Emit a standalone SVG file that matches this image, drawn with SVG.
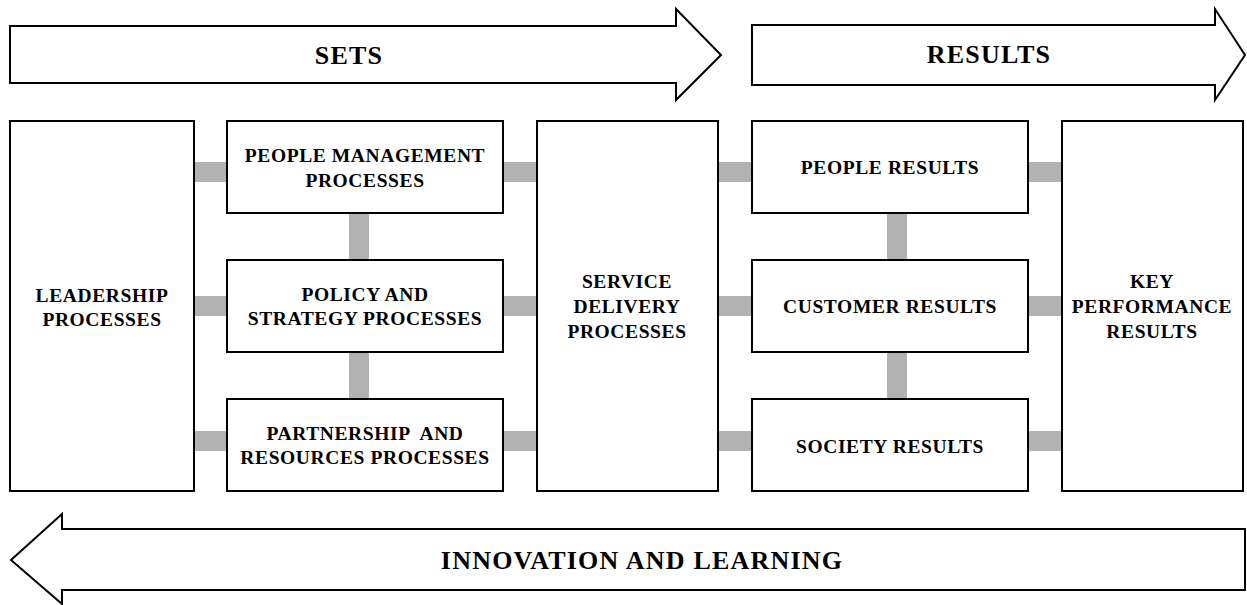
<svg xmlns="http://www.w3.org/2000/svg" width="1247" height="605" viewBox="0 0 1247 605">
<style>
.box{fill:#fff;stroke:#000;stroke-width:2}
.arr{fill:#fff;stroke:#000;stroke-width:2;stroke-linejoin:miter}
.bar{stroke:#b2b2b2;stroke-width:20;fill:none}
text{font-family:"Liberation Serif","Times New Roman",serif;font-weight:bold;fill:#000;text-anchor:middle}
.t{font-size:19.5px;letter-spacing:0.6px}
.big{font-size:26px;letter-spacing:1.2px}
.pre{white-space:pre}
</style>
<rect width="1247" height="605" fill="#fff"/>
<g id="connectors">
<line class="bar" x1="194" y1="172" x2="227" y2="172"/>
<line class="bar" x1="194" y1="306" x2="227" y2="306"/>
<line class="bar" x1="194" y1="441" x2="227" y2="441"/>
<line class="bar" x1="503" y1="172" x2="537" y2="172"/>
<line class="bar" x1="503" y1="306" x2="537" y2="306"/>
<line class="bar" x1="503" y1="441" x2="537" y2="441"/>
<line class="bar" x1="718" y1="172" x2="752" y2="172"/>
<line class="bar" x1="718" y1="306" x2="752" y2="306"/>
<line class="bar" x1="718" y1="441" x2="752" y2="441"/>
<line class="bar" x1="1028" y1="172" x2="1062" y2="172"/>
<line class="bar" x1="1028" y1="306" x2="1062" y2="306"/>
<line class="bar" x1="1028" y1="441" x2="1062" y2="441"/>
<line class="bar" x1="359" y1="213" x2="359" y2="260"/>
<line class="bar" x1="359" y1="352" x2="359" y2="399"/>
<line class="bar" x1="897" y1="213" x2="897" y2="260"/>
<line class="bar" x1="897" y1="352" x2="897" y2="399"/>
</g>
<g id="sets">
<polygon class="arr" points="10,26 676,26 676,9 721,55 676,100 676,83 10,83"/>
<text class="big" x="349" y="64">SETS</text>
</g>
<g id="results">
<polygon class="arr" points="752,25 1215,25 1215,9 1245,55 1215,100 1215,85 752,85"/>
<text class="big" x="989" y="63">RESULTS</text>
</g>
<g id="innovation">
<polygon class="arr" points="1245,529 62,529 62,514 11,560 62,604 62,590 1245,590"/>
<text class="big" x="642" y="569">INNOVATION AND LEARNING</text>
</g>
<g id="leadership">
<rect class="box" x="10" y="121" width="184" height="370"/>
<text class="t" x="102" y="302">LEADERSHIP</text>
<text class="t" x="102" y="326">PROCESSES</text>
</g>
<g id="people-management">
<rect class="box" x="227" y="121" width="276" height="92"/>
<text class="t" x="365" y="162">PEOPLE MANAGEMENT</text>
<text class="t" x="365" y="187">PROCESSES</text>
</g>
<g id="policy-strategy">
<rect class="box" x="227" y="260" width="276" height="92"/>
<text class="t" x="365" y="301">POLICY AND</text>
<text class="t" x="365" y="325">STRATEGY PROCESSES</text>
</g>
<g id="partnership-resources">
<rect class="box" x="227" y="399" width="276" height="92"/>
<text class="t pre" x="365" y="440">PARTNERSHIP  AND</text>
<text class="t" x="365" y="464">RESOURCES PROCESSES</text>
</g>
<g id="service-delivery">
<rect class="box" x="537" y="121" width="181" height="370"/>
<text class="t" x="627" y="288">SERVICE</text>
<text class="t" x="627" y="313">DELIVERY</text>
<text class="t" x="627" y="338">PROCESSES</text>
</g>
<g id="people-results">
<rect class="box" x="752" y="121" width="276" height="92"/>
<text class="t" x="890" y="174">PEOPLE RESULTS</text>
</g>
<g id="customer-results">
<rect class="box" x="752" y="260" width="276" height="92"/>
<text class="t" x="890" y="313">CUSTOMER RESULTS</text>
</g>
<g id="society-results">
<rect class="box" x="752" y="399" width="276" height="92"/>
<text class="t" x="890" y="453">SOCIETY RESULTS</text>
</g>
<g id="key-performance">
<rect class="box" x="1062" y="121" width="181" height="370"/>
<text class="t" x="1152" y="288">KEY</text>
<text class="t" x="1152" y="313">PERFORMANCE</text>
<text class="t" x="1152" y="338">RESULTS</text>
</g>
</svg>
